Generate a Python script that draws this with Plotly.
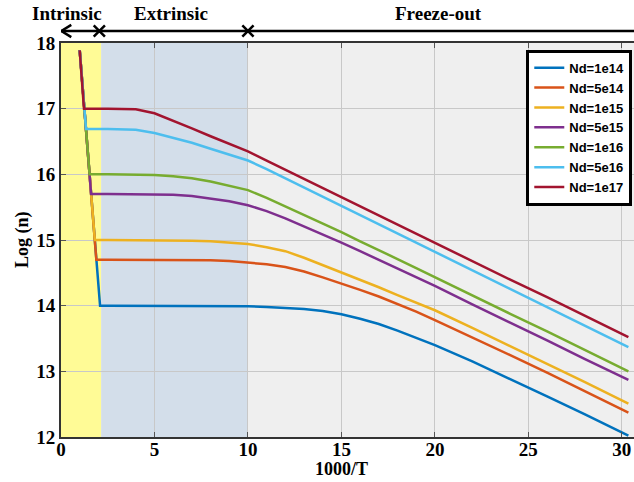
import plotly.graph_objects as go

# ---------------- data ----------------
labels = ["Nd=1e14", "Nd=5e14", "Nd=1e15", "Nd=5e15", "Nd=1e16", "Nd=5e16", "Nd=1e17"]
colors = ["#0072BD", "#D95319", "#EDB120", "#7E2F8E", "#77AC30", "#4DBEEE", "#A2142F"]

start_x = 1.0
start_y = 17.89
bend_x = [2.09, 1.89, 1.81, 1.61, 1.53, 1.34, 1.23]
plateau = [14.0, 14.70, 15.0, 15.70, 16.0, 16.69, 17.0]

tail_x = [2.5, 4, 5, 6, 7, 8, 9, 10, 11, 12, 13, 14, 15, 16, 17, 18, 19, 20, 22, 24, 26, 28, 30.35]
y_1e14 = [14.0, 14.0, 14.0, 14.0, 14.0, 14.0, 14.0, 13.99, 13.98, 13.97, 13.95, 13.92, 13.87, 13.80, 13.72, 13.62, 13.51, 13.40, 13.15, 12.89, 12.62, 12.35, 12.02]
y_5e14 = [14.70, 14.70, 14.70, 14.70, 14.70, 14.69, 14.68, 14.66, 14.63, 14.59, 14.52, 14.43, 14.34, 14.24, 14.14, 14.03, 13.91, 13.78, 13.52, 13.25, 12.98, 12.70, 12.37]
y_1e15 = [15.0, 15.0, 15.0, 15.0, 14.99, 14.98, 14.96, 14.94, 14.89, 14.83, 14.73, 14.62, 14.50, 14.39, 14.28, 14.16, 14.05, 13.93, 13.66, 13.39, 13.11, 12.84, 12.51]
y_5e15 = [15.70, 15.70, 15.70, 15.69, 15.67, 15.63, 15.59, 15.53, 15.44, 15.33, 15.21, 15.09, 14.96, 14.83, 14.70, 14.57, 14.44, 14.30, 14.02, 13.75, 13.47, 13.19, 12.87]
y_1e16 = [16.0, 16.0, 15.99, 15.97, 15.94, 15.89, 15.83, 15.76, 15.64, 15.51, 15.39, 15.26, 15.12, 14.98, 14.85, 14.71, 14.57, 14.43, 14.16, 13.88, 13.61, 13.33, 13.00]
y_5e16 = [16.69, 16.68, 16.63, 16.56, 16.48, 16.39, 16.30, 16.21, 16.08, 15.94, 15.80, 15.66, 15.52, 15.38, 15.24, 15.10, 14.96, 14.82, 14.54, 14.26, 13.98, 13.70, 13.37]
y_1e17 = [17.0, 16.99, 16.93, 16.82, 16.70, 16.58, 16.47, 16.35, 16.21, 16.07, 15.93, 15.79, 15.65, 15.51, 15.37, 15.23, 15.10, 14.96, 14.68, 14.40, 14.13, 13.85, 13.52]
tails = [y_1e14, y_5e14, y_1e15, y_5e15, y_1e16, y_5e16, y_1e17]

region_names = ["Intrinsic", "Extrinsic", "Freeze-out"]
region_bounds = [0, 2.15, 10]
x_ticks = [0, 5, 10, 15, 20, 25, 30]
y_ticks = [12, 13, 14, 15, 16, 17, 18]

# ---------------- figure ----------------
fig = go.Figure()
for lab, col, bx, pl, ty in zip(labels, colors, bend_x, plateau, tails):
    xs = [start_x, bx] + tail_x
    ys = [start_y, pl] + ty
    fig.add_trace(go.Scatter(x=xs, y=ys, mode="lines", name=lab,
                             line=dict(color=col, width=2.5)))

shapes = [
    dict(type="rect", xref="x", yref="paper", x0=region_bounds[0], x1=region_bounds[1], y0=0, y1=1,
         fillcolor="#FFFB96", line=dict(width=0), layer="below"),
    dict(type="rect", xref="x", yref="paper", x0=region_bounds[1], x1=region_bounds[2], y0=0, y1=1,
         fillcolor="#D3DEEA", line=dict(width=0), layer="below"),
    # top arrow line
    dict(type="line", xref="paper", yref="paper", x0=0, x1=1.0, y0=1.0305, y1=1.0305,
         line=dict(color="black", width=2.5)),
    dict(type="path", xref="x", yref="paper",
         path="M 0.55,1.046 L 0.02,1.0305 L 0.55,1.015", line=dict(color="black", width=2.5)),
]
for xc in [2.05, region_bounds[2]]:
    shapes.append(dict(type="path", xref="x", yref="paper",
                       path=f"M {xc-0.3},1.045 L {xc+0.3},1.016 M {xc-0.3},1.016 L {xc+0.3},1.045",
                       line=dict(color="black", width=2.5)))

def bfont(size):
    return dict(family="Liberation Serif", size=size, color="black", weight="bold")

annotations = [
    dict(text=region_names[0], x=0.32, y=1.076, xref="x", yref="paper", showarrow=False,
         xanchor="center", yanchor="middle", font=bfont(19)),
    dict(text=region_names[1], x=5.9, y=1.076, xref="x", yref="paper", showarrow=False,
         xanchor="center", yanchor="middle", font=bfont(19)),
    dict(text=region_names[2], x=20.2, y=1.076, xref="x", yref="paper", showarrow=False,
         xanchor="center", yanchor="middle", font=bfont(19)),
    dict(text="Log (n)", x=-0.068, y=0.5, xref="paper", yref="paper", showarrow=False, textangle=-90,
         xanchor="center", yanchor="middle", font=bfont(18)),
    dict(text="1000/T", x=15, y=-0.082, xref="x", yref="paper", showarrow=False,
         xanchor="center", yanchor="middle", font=bfont(18)),
]

fig.update_layout(
    width=634, height=482,
    margin=dict(l=61, r=0, t=43, b=45),
    paper_bgcolor="white", plot_bgcolor="#EFEFEF",
    shapes=shapes, annotations=annotations,
    showlegend=True,
    legend=dict(x=0.997, xanchor="right", y=0.983, yanchor="top",
                bgcolor="white", bordercolor="black", borderwidth=3,
                font=dict(family="Liberation Sans", size=13, color="black", weight="bold"),
                tracegroupgap=0, itemwidth=30),
    xaxis=dict(range=[0, 30.65], tickvals=x_ticks, showgrid=True, gridcolor="#C8C8C8", gridwidth=1,
               ticks="inside", ticklen=5, tickcolor="#555", showline=True, linecolor="#333", linewidth=2,
               mirror="ticks", zeroline=False, tickfont=bfont(19), ticklabelstandoff=-6),
    yaxis=dict(range=[12, 18], tickvals=y_ticks, showgrid=True, gridcolor="#C8C8C8", gridwidth=1,
               ticks="inside", ticklen=5, tickcolor="#555", showline=True, linecolor="#333", linewidth=2,
               zeroline=False, tickfont=bfont(19)),
)

fig.write_html("out.html", post_script="document.body.style.margin='0';",
               config={"displayModeBar": False})
